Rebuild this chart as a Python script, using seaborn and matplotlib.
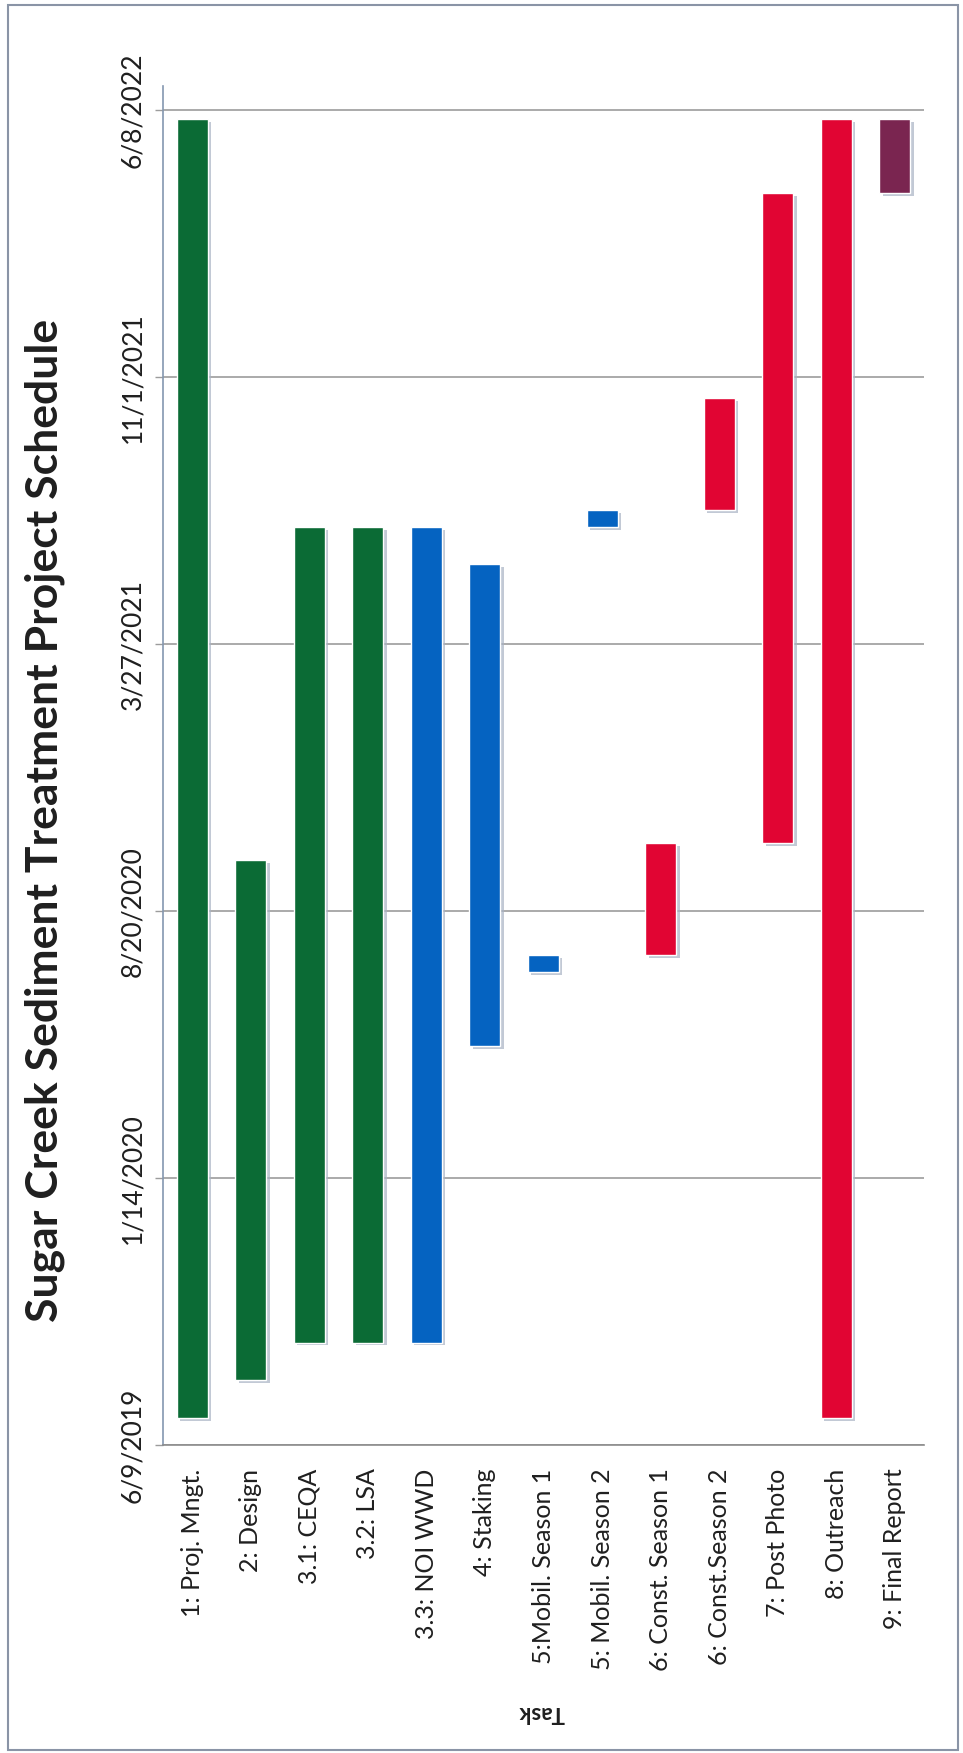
import matplotlib
matplotlib.use('Agg')
import matplotlib.pyplot as plt
import matplotlib.patheffects as pe
from matplotlib.patches import Rectangle
import seaborn as sns
import pandas as pd

tasks = ['1: Proj. Mngt.', '2: Design', '3.1: CEQA', '3.2: LSA', '3.3: NOI WWD',
         '4: Staking', '5:Mobil. Season 1', '5: Mobil. Season 2',
         '6: Const. Season 1', '6: Const.Season 2', '7: Post Photo',
         '8: Outreach', '9: Final Report']
starts = ['7/1/2019', '8/1/2019', '9/1/2019', '9/1/2019', '9/1/2019',
          '5/1/2020', '7/1/2020', '7/1/2021', '7/15/2020', '7/15/2021',
          '10/15/2020', '7/1/2019', '4/1/2022']
ends = ['6/1/2022', '10/1/2020', '7/1/2021', '7/1/2021', '7/1/2021',
        '6/1/2021', '7/15/2020', '7/15/2021', '10/15/2020', '10/15/2021',
        '4/1/2022', '6/1/2022', '6/1/2022']
groups = ['green', 'green', 'green', 'green', 'blue', 'blue', 'blue', 'blue',
          'red', 'red', 'red', 'red', 'purple']
tick_dates = ['6/9/2019', '1/14/2020', '8/20/2020', '3/27/2021', '11/1/2021', '6/8/2022']
axis_end = '6/28/2022'
title = 'Sugar Creek Sediment Treatment Project Schedule'

palette = {
    'green': '#0b6b35',
    'blue': '#0563c1',
    'red': '#e10533',
    'purple': '#7a2550',
}

origin = pd.to_datetime(tick_dates[0], format='%m/%d/%Y')
df = pd.DataFrame({'Task': tasks, 'Start': starts, 'End': ends, 'Group': groups})
df['start_day'] = (pd.to_datetime(df['Start'], format='%m/%d/%Y') - origin).dt.days
df['dur'] = (pd.to_datetime(df['End'], format='%m/%d/%Y') -
             pd.to_datetime(df['Start'], format='%m/%d/%Y')).dt.days

sns.set_style('white')
plt.rcParams['font.family'] = ['Lato', 'DejaVu Sans']
text_color = '#1f1f1f'

fig = plt.figure(figsize=(9.63, 17.53), dpi=100)
ax = fig.add_axes([163 / 963, 1 - 1445 / 1753, (924 - 163) / 963, (1445 - 86) / 1753])

shadow = [pe.SimplePatchShadow(offset=(2.5, -2), shadow_rgbFace='#a9b3c4', alpha=0.7), pe.Normal()]

for grupo in ['green', 'blue', 'red', 'purple']:
    sub = df[df['Group'] == grupo]
    sns.barplot(data=sub, x='Task', y='dur', order=tasks, color=palette[grupo],
                bottom=sub['start_day'].values, width=0.53, saturation=1,
                errorbar=None, ax=ax, path_effects=shadow)

tick_pos = [(pd.to_datetime(d, format='%m/%d/%Y') - origin).days for d in tick_dates]
ax.set_ylim(0, (pd.to_datetime(axis_end, format='%m/%d/%Y') - origin).days)
ax.set_xlim(-0.5, len(tasks) - 0.5)
ax.set_yticks(tick_pos)
ax.set_yticklabels(tick_dates, rotation=90, va='center', fontsize=19, color=text_color)
ax.set_xticks(range(len(tasks)))
ax.set_xticklabels(tasks, rotation=90, fontsize=18, color=text_color)
ax.set_xticks([i - 0.5 for i in range(len(tasks) + 1)], minor=True)
ax.set_xlabel('')
ax.set_ylabel('')

ax.yaxis.grid(True, color='#9c9c9c', linewidth=1.2)
ax.set_axisbelow(True)
ax.tick_params(axis='x', which='major', length=0, pad=17)
ax.tick_params(axis='x', which='minor', length=4, width=1, color='#8c8c8c', direction='out')
ax.tick_params(axis='y', length=6, width=1, color='#9c9c9c', direction='out', pad=7, left=True)

sns.despine(ax=ax, top=True, right=True)
ax.spines['left'].set_color('#8497b0')
ax.spines['bottom'].set_color('#8c8c8c')
ax.spines['left'].set_linewidth(1.2)
ax.spines['bottom'].set_linewidth(1.2)

fig.text(45 / 963, 1 - 820 / 1753, title, rotation=90, ha='center', va='center',
         fontsize=32, fontweight='bold', color=text_color)
fig.text(541 / 963, 1 - 1712 / 1753, 'Task', rotation=180, ha='center', va='center',
         fontsize=16, fontweight='bold', color=text_color)

fig.patches.append(Rectangle((8 / 963, 3 / 1753), 950 / 963, 1745 / 1753,
                             transform=fig.transFigure, fill=False,
                             edgecolor='#8a94a6', linewidth=1.5))

fig.savefig('out.png', dpi=100)
plt.close()
